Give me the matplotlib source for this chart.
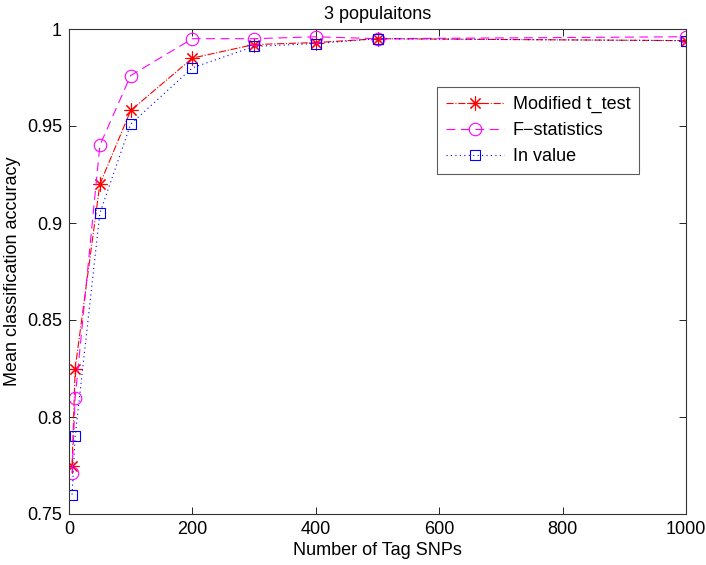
import matplotlib
matplotlib.use("Agg")
import matplotlib.pyplot as plt

plt.rcParams['font.family'] = ['Liberation Sans', 'DejaVu Sans']

n_snps = [5, 10, 50, 100, 200, 300, 400, 500, 1000]
t_test = [0.775, 0.825, 0.920, 0.958, 0.985, 0.992, 0.993, 0.995, 0.994]
f_stat = [0.771, 0.810, 0.940, 0.976, 0.995, 0.995, 0.996, 0.995, 0.996]
in_value = [0.760, 0.790, 0.905, 0.951, 0.980, 0.991, 0.9925, 0.995, 0.994]

x_ticks = [0, 200, 400, 600, 800, 1000]
y_ticks = [0.75, 0.8, 0.85, 0.9, 0.95, 1.0]
y_tick_labels = ['0.75', '0.8', '0.85', '0.9', '0.95', '1']

fig = plt.figure(figsize=(7.06, 5.65), dpi=100)
ax = fig.add_axes([69/706, 51/565, 617/706, 485/565])

ax.plot(n_snps, t_test, color='#ff0000', linestyle='-.', linewidth=0.8,
        marker=(8, 2, 0), markersize=10, markeredgewidth=0.8, label='Modified t_test')
ax.plot(n_snps, f_stat, color='#ff00ff', linestyle=(0, (8, 5)), linewidth=0.8,
        marker='o', markersize=9, markerfacecolor='none', markeredgewidth=0.8,
        label='F\u2212statistics')
ax.plot(n_snps, in_value, color='#0000ff', linestyle=(0, (1, 3)), linewidth=0.8,
        marker='s', markersize=7.5, markerfacecolor='none', markeredgewidth=0.8,
        label='In value')

ax.set_xlim(0, 1000)
ax.set_ylim(0.75, 1.0)
ax.set_xticks(x_ticks)
ax.set_yticks(y_ticks)
ax.set_yticklabels(y_tick_labels)
ax.tick_params(direction='in', top=True, right=True, length=5, width=0.6,
               labelsize=13, pad=5)
for s in ax.spines.values():
    s.set_linewidth(0.8)
    s.set_color('#333333')

ax.set_title('3 populaitons', fontsize=13, pad=7)
ax.set_xlabel('Number of Tag SNPs', fontsize=13, labelpad=3)
ax.set_ylabel('Mean classification accuracy', fontsize=13, labelpad=4)

leg = ax.legend(loc='upper left', bbox_to_anchor=(368/617, 1 - 58/485),
                fontsize=13, frameon=True, fancybox=False, handlelength=3.2,
                borderpad=0.5, labelspacing=0.5, handletextpad=0.5,
                borderaxespad=0)
leg.get_frame().set_edgecolor('#333333')
leg.get_frame().set_linewidth(0.8)

fig.savefig('out.png', dpi=100)
